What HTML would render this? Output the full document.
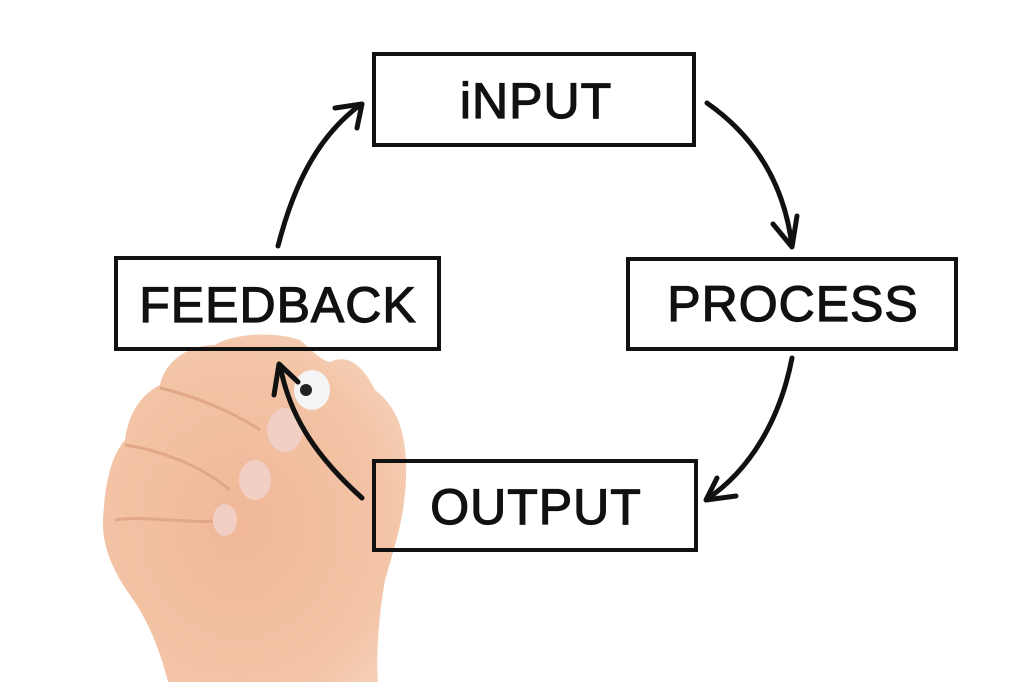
<!DOCTYPE html>
<html><head><meta charset="utf-8"><style>
html,body{margin:0;padding:0;background:#fff;width:1024px;height:682px;overflow:hidden}
</style></head><body>
<svg width="1024" height="682" viewBox="0 0 1024 682" xmlns="http://www.w3.org/2000/svg">
<defs>
<radialGradient id="sk" cx="0.45" cy="0.55" r="0.7">
<stop offset="0" stop-color="#f0b898"/><stop offset="0.7" stop-color="#f3c4a6"/><stop offset="1" stop-color="#f7d6c0"/>
</radialGradient>
</defs>
<path d="M103,520 C105,480 112,455 125,440 C128,415 140,395 160,385 C165,360 190,345 215,345 C230,335 270,330 300,340 C312,350 320,360 330,362 C345,355 360,360 375,390 C395,405 408,430 406,480 C404,520 395,545 385,580 C378,620 376,660 378,682 L168,682 C160,650 148,620 130,595 C112,570 102,545 103,520 Z" fill="url(#sk)"/>
<path d="M160,388 C190,395 230,410 260,430" stroke="#e0a888" stroke-width="3" fill="none"/>
<path d="M125,445 C160,450 200,465 230,490" stroke="#e0a888" stroke-width="3" fill="none"/>
<path d="M115,520 C150,515 190,525 230,520" stroke="#e0a888" stroke-width="3" fill="none"/>
<ellipse cx="285" cy="430" rx="18" ry="22" fill="#f2cfc4"/>
<ellipse cx="255" cy="480" rx="16" ry="20" fill="#f2cfc4"/>
<ellipse cx="225" cy="520" rx="12" ry="16" fill="#f2cfc4"/>
<ellipse cx="312" cy="390" rx="18" ry="20" fill="#f4f4f4"/>
<circle cx="306" cy="390" r="6" fill="#222"/>
<g fill="none" stroke="#111" stroke-width="4">
<rect x="374" y="54" width="320" height="91"/>
<rect x="116" y="258" width="323" height="91"/>
<rect x="628" y="259" width="328" height="90"/>
<rect x="374" y="461" width="322" height="89"/>
</g>
<g font-family="Liberation Sans, sans-serif" font-size="50" fill="#111" stroke="#111" stroke-width="1.2" text-anchor="middle" letter-spacing="1">
<text x="536" y="118">iNPUT</text>
<text x="278" y="322">FEEDBACK</text>
<text x="793" y="321">PROCESS</text>
<text x="536" y="524">OUTPUT</text>
</g>
<g fill="none" stroke="#111" stroke-width="5" stroke-linecap="round" stroke-linejoin="round">
<path d="M278,246 C295,180 320,135 360,105"/>
<path d="M335,108 L362,104 L357,128"/>
<path d="M707,103 C760,140 785,190 792,246"/>
<path d="M773,224 L792,247 L797,216"/>
<path d="M792,358 C780,420 750,470 707,499"/>
<path d="M717,478 L706,500 L736,496"/>
<path d="M362,498 C320,460 290,420 280,365"/>
<path d="M274,395 L279,364 L298,382"/>
</g>
</svg>
</body></html>
